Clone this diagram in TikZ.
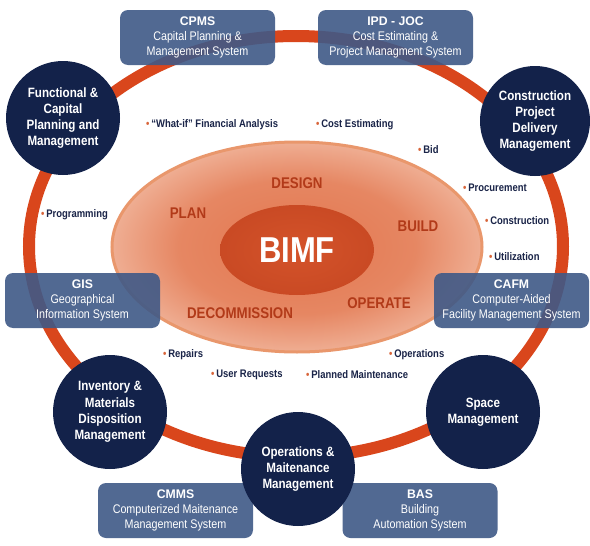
\documentclass[tikz,border=0pt]{standalone}
\usepackage{fontspec}
\setmainfont{Liberation Sans}[FakeStretch=0.86]
\newfontfamily\wideb{Liberation Sans}[FakeStretch=0.98]
\usetikzlibrary{shapes.geometric}
\definecolor{ringc}{HTML}{D9461C}
\definecolor{navy}{HTML}{13224A}
\definecolor{slate}{HTML}{3F5987}
\definecolor{stagec}{HTML}{B23A19}
\definecolor{dotc}{HTML}{D8653A}
\definecolor{btext}{HTML}{1A2448}
\definecolor{glowA}{HTML}{E2764E}
\definecolor{glowB}{HTML}{FCE6D8}
\definecolor{glowedge}{HTML}{E9976C}
\definecolor{coreA}{HTML}{D4532A}
\definecolor{coreB}{HTML}{A92E12}
\pgfdeclareradialshading{glowshade}{\pgfpoint{0bp}{0bp}}{color(0bp)=(glowA); color(16bp)=(glowA!85!glowB); color(38bp)=(glowB); color(50bp)=(glowB!85!glowA)}
\pgfdeclareradialshading{coreshade}{\pgfpoint{0bp}{0bp}}{color(0bp)=(coreA); color(30bp)=(coreA!70!coreB); color(50bp)=(coreB)}
\tikzset{
  circ/.style={circle, fill=navy, minimum size=114pt, inner sep=0pt, text=white, align=center,
    font=\bfseries\fontsize{13.5}{16.3}\selectfont},
  sysbox/.style={rounded corners=8pt, fill=slate, fill opacity=0.9, text opacity=1, minimum width=155pt,
    minimum height=55pt, inner sep=0pt, text=white, align=center, font=\fontsize{12.5}{15}\selectfont},
  stagelbl/.style={text=stagec, font=\bfseries\fontsize{15.5}{17}\selectfont, inner sep=0pt},
  item/.style={anchor=west, text=btext, font=\bfseries\fontsize{11}{13}\selectfont, inner sep=0pt},
}
\newcommand{\dotb}{\textcolor{dotc}{\textbullet}\,}
\newcommand{\ttl}[1]{{\wideb\bfseries\fontsize{12.5}{15}\selectfont #1}}
\begin{document}
\begin{tikzpicture}[x=1pt,y=-1pt]
\useasboundingbox (0,0) rectangle (590,546);
\fill[white] (0,0) rectangle (590,546);
% big ring
\node[ellipse, draw=ringc, line width=12pt, minimum width=534pt, minimum height=421pt, inner sep=0pt] (ring) at (296,246.5) {};
% inner glow ellipse
\node[ellipse, shading=glowshade, draw=glowedge, line width=3pt, minimum width=370pt, minimum height=210pt, inner sep=0pt] (life) at (297,247) {};
\node[ellipse, shading=coreshade, minimum width=154pt, minimum height=90pt, inner sep=0pt] (core) at (297,250) {};
\node[text=white, font=\bfseries\fontsize{36}{36}\selectfont] (bimf) at (297,250) {BIMF};
% stages
\node[stagelbl] (design) at (297,183) {DESIGN};
\node[stagelbl] (plan) at (188,213) {PLAN};
\node[stagelbl] (build) at (418,226) {BUILD};
\node[stagelbl] (operate) at (379,303) {OPERATE};
\node[stagelbl] (decom) at (240,313) {DECOMMISSION};
% items
\node[item] (i1) at (146,125) {\dotb “What-if” Financial Analysis};
\node[item] (i2) at (316,125) {\dotb Cost Estimating};
\node[item] (i3) at (418,150) {\dotb Bid};
\node[item] (i4) at (463,188) {\dotb Procurement};
\node[item] (i5) at (485,221) {\dotb Construction};
\node[item] (i6) at (489,257) {\dotb Utilization};
\node[item] (i7) at (41,215) {\dotb Programming};
\node[item] (i8) at (163,355) {\dotb Repairs};
\node[item] (i9) at (389,355) {\dotb Operations};
\node[item] (i10) at (211,375) {\dotb User Requests};
\node[item] (i11) at (306,375) {\dotb Planned Maintenance};
% system boxes
\node[sysbox] (cpms) at (197.5,37.5) {\ttl{CPMS}\\Capital Planning \&\\Management System};
\node[sysbox] (ipd) at (395.5,37.5) {\ttl{IPD - JOC}\\Cost Estimating \&\\Project Managment System};
\node[sysbox] (gis) at (82.5,300.5) {\ttl{GIS}\\Geographical\\Information System};
\node[sysbox] (cafm) at (511.5,300.5) {\ttl{CAFM}\\Computer-Aided\\Facility Management System};
\node[sysbox] (cmms) at (175.5,510.5) {\ttl{CMMS}\\Computerized Maitenance\\Management System};
\node[sysbox] (bas) at (420,510.5) {\ttl{BAS}\\Building\\Automation System};
% circles
\node[circ] (fcpm) at (63,118) {Functional \&\\Capital\\Planning and\\Management};
\node[circ, minimum size=110pt] (cpdm) at (535,121) {Construction\\Project\\Delivery\\Management};
\node[circ] (imdm) at (110,412) {Inventory \&\\Materials\\Disposition\\Management};
\node[circ] (sm) at (483,412) {Space\\Management};
\node[circ] (omm) at (298,469) {Operations \&\\Maitenance\\Management};
\end{tikzpicture}
\end{document}
